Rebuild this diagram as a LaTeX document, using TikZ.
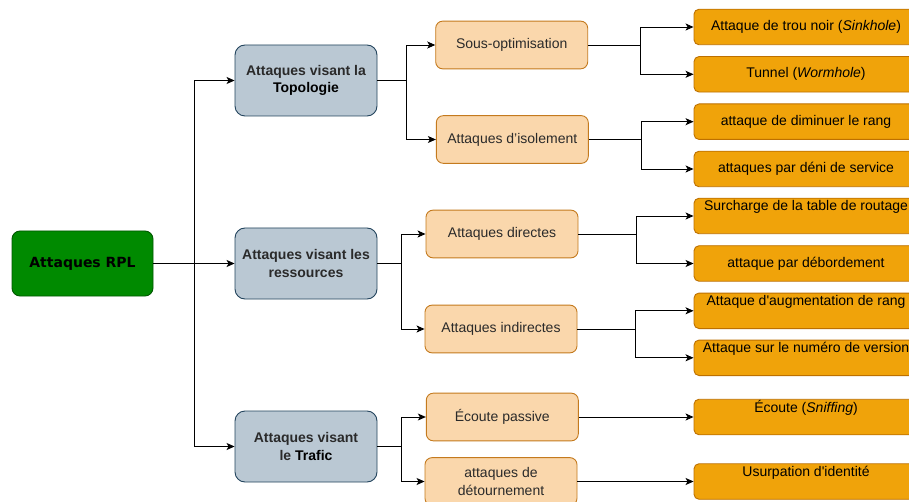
\documentclass[tikz,border=0pt]{standalone}
\usepackage{fontspec}
\setmainfont{Liberation Sans}
\newfontfamily\dejavu{DejaVu Sans}
\usetikzlibrary{arrows.meta}
\definecolor{rootfill}{HTML}{008A00}
\definecolor{rootline}{HTML}{005700}
\definecolor{lafill}{HTML}{BAC8D3}
\definecolor{laline}{HTML}{23445D}
\definecolor{lbfill}{HTML}{FAD7AC}
\definecolor{lbline}{HTML}{C47A1E}
\definecolor{lcfill}{HTML}{F0A30A}
\definecolor{lcline}{HTML}{BD7000}
\definecolor{txtgray}{HTML}{2A2A2A}
\tikzset{
  boxbase/.style={draw, line width=0.9pt, inner sep=0pt, align=center, font=\fontsize{14}{17.5}\selectfont},
  rootbox/.style={boxbase, fill=rootfill, draw=rootline, rounded corners=8pt, minimum width=141pt, minimum height=65pt, font=\dejavu\bfseries\fontsize{14}{17}\selectfont, text=black},
  lvlone/.style={boxbase, fill=lafill, draw=laline, rounded corners=10pt, minimum width=142pt, minimum height=71pt, font=\bfseries\fontsize{14}{17.5}\selectfont, text=txtgray},
  lvltwo/.style={boxbase, fill=lbfill, draw=lbline, rounded corners=7pt, minimum width=152pt, minimum height=47.7pt, text=txtgray},
  lvlthree/.style={boxbase, fill=lcfill, draw=lcline, rounded corners=5pt, minimum width=224pt, minimum height=35.5pt, text=black},
  toplbl/.style={inner sep=0pt, font=\fontsize{14}{17}\selectfont, text=black, anchor=center},
  conn/.style={draw=black, line width=0.9pt},
  arr/.style={conn, -{Stealth[length=8pt,width=7pt,inset=2pt]}}
}
\begin{document}
\begin{tikzpicture}[x=1pt,y=-1pt]
\useasboundingbox (0,0) rectangle (909,502);
\fill[white] (0,0) rectangle (909,502);

% root
\node[rootbox] (root) at (82.5,263.5) {Attaques RPL};

% level one
\node[lvlone] (topo) at (306,80.5) {Attaques visant la\\\textcolor{black}{Topologie}};
\node[lvlone] (res) at (306,263.5) {Attaques visant les\\ressources};
\node[lvlone] (traf) at (306,446.5) {Attaques visant\\le \textcolor{black}{Trafic}};

% level two
\node[lvltwo] (sous) at (511.7,45) {Sous-optimisation};
\node[lvltwo] (isol) at (512.3,139.5) {Attaques d’isolement};
\node[lvltwo] (dir) at (502,234) {Attaques directes};
\node[lvltwo] (indir) at (501,329) {Attaques indirectes};
\node[lvltwo] (ecp) at (502.3,417) {Écoute passive};
\node[lvltwo] (detour) at (501,481.5) {attaques de\\détournement};

% level three
\node[lvlthree] (sink) at (806,27) {Attaque de trou noir (\textit{Sinkhole})};
\node[lvlthree] (worm) at (806,74.3) {Tunnel (\textit{Wormhole})};
\node[lvlthree] (dimin) at (806,121.7) {attaque de diminuer le rang};
\node[lvlthree] (deni) at (806,169) {attaques par déni de service};
\node[lvlthree] (surch) at (806,216) {};
\node[toplbl] (surchT) at ([yshift=-9pt]surch.north) {Surcharge de la table de routage};
\node[lvlthree] (debord) at (806,263.5) {attaque par débordement};
\node[lvlthree] (augm) at (806,310.8) {};
\node[toplbl] (augmT) at ([yshift=-9pt]augm.north) {Attaque d\textquotesingle augmentation de rang};
\node[lvlthree] (numero) at (806,357.8) {};
\node[toplbl] (numeroT) at ([yshift=-9pt]numero.north) {Attaque sur le numéro de version};
\node[lvlthree] (sniff) at (806,417) {};
\node[toplbl] (sniffT) at ([yshift=-9pt]sniff.north) {Écoute (\textit{Sniffing})};
\node[lvlthree] (usurp) at (806,481.5) {};
\node[toplbl] (usurpT) at ([yshift=-9pt]usurp.north) {Usurpation d\textquotesingle identité};

% junction coordinates
\coordinate (j0) at (194,263.5);
\coordinate (j1) at (406,80.5);
\coordinate (j2) at (401,263.5);
\coordinate (j3) at (401,446.5);
\coordinate (k1) at (640.7,45);
\coordinate (k2) at (641,139.5);
\coordinate (k3) at (636,234);
\coordinate (k4) at (635.3,329);

% root -> level one
\draw[arr] (root.east) -- (res.west);
\draw[arr] (root.east) -- (j0) |- (topo.west);
\draw[arr] (root.east) -- (j0) |- (traf.west);

% level one -> level two
\draw[arr] (topo.east) -- (j1) |- (sous.west);
\draw[arr] (topo.east) -- (j1) |- (isol.west);
\draw[arr] (res.east) -- (j2) |- (dir.west);
\draw[arr] (res.east) -- (j2) |- (indir.west);
\draw[arr] (traf.east) -- (j3) |- (ecp.west);
\draw[arr] (traf.east) -- (j3) |- (detour.west);

% level two -> level three
\draw[arr] (sous.east) -- (k1) |- (sink.west);
\draw[arr] (sous.east) -- (k1) |- (worm.west);
\draw[arr] (isol.east) -- (k2) |- (dimin.west);
\draw[arr] (isol.east) -- (k2) |- (deni.west);
\draw[arr] (dir.east) -- (k3) |- (surch.west);
\draw[arr] (dir.east) -- (k3) |- (debord.west);
\draw[arr] (indir.east) -- (k4) |- (augm.west);
\draw[arr] (indir.east) -- (k4) |- (numero.west);
\draw[arr] (ecp.east) -- (sniff.west);
\draw[arr] (detour.east) -- (usurp.west);
\end{tikzpicture}
\end{document}
